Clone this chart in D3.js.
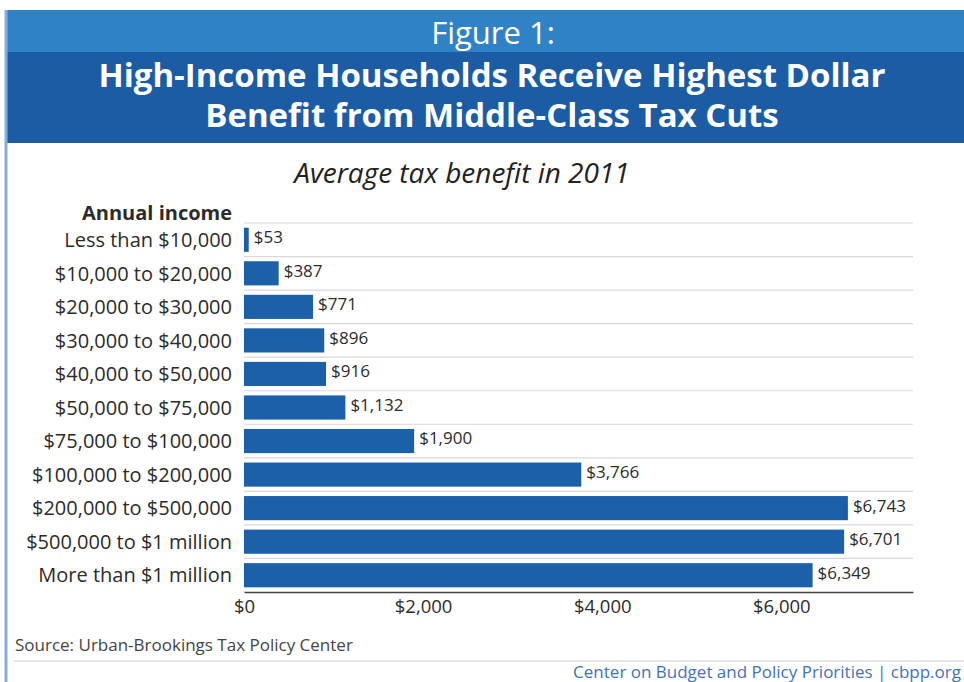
<!DOCTYPE html>
<html lang="en">
<head>
<meta charset="utf-8">
<title>Figure 1</title>
<script src="https://d3js.org/d3.v7.min.js"></script>
<style>
  body { margin: 0; background: #fff; }
  svg text { font-family: "Open Sans", sans-serif; }
  .rowlabel { fill: #2b2b2b; font-size: 20px; }
  .vlabel { fill: #2b2b2b; font-size: 17px; }
  .axis text { fill: #2b2b2b; font-size: 18.5px; font-family: "Open Sans", sans-serif; }
  .grid line { stroke: #d8d8d8; stroke-width: 1.2px; }
</style>
</head>
<body>
<svg id="chart" width="964" height="682"></svg>
<script>
// data
var incomes = ["Less than $10,000", "$10,000 to $20,000", "$20,000 to $30,000",
  "$30,000 to $40,000", "$40,000 to $50,000", "$50,000 to $75,000",
  "$75,000 to $100,000", "$100,000 to $200,000", "$200,000 to $500,000",
  "$500,000 to $1 million", "More than $1 million"];
var benefits = [53, 387, 771, 896, 916, 1132, 1900, 3766, 6743, 6701, 6349];
var ticks = [0, 2000, 4000, 6000];

var svg = d3.select("#chart");
var dollars = d3.format("$,");

// header bands
svg.append("rect").attr("x", 7).attr("y", 10).attr("width", 957).attr("height", 42).attr("fill", "#2f82c6");
svg.append("rect").attr("x", 7).attr("y", 52).attr("width", 957).attr("height", 91).attr("fill", "#1b5ca4");
svg.append("line").attr("x1", 6).attr("x2", 6).attr("y1", 10).attr("y2", 682)
    .attr("stroke", "#86b0dc").attr("stroke-width", 3);

svg.append("text").attr("x", 493).attr("y", 44).attr("text-anchor", "middle")
    .attr("fill", "#fff").style("font-size", "31px")
    .text("Figure 1:");
svg.append("text").attr("x", 492).attr("y", 87).attr("text-anchor", "middle")
    .attr("fill", "#fff").style("font-size", "33px").style("font-weight", "bold")
    .text("High-Income Households Receive Highest Dollar");
svg.append("text").attr("x", 492).attr("y", 127).attr("text-anchor", "middle")
    .attr("fill", "#fff").style("font-size", "33px").style("font-weight", "bold")
    .text("Benefit from Middle-Class Tax Cuts");

svg.append("text").attr("x", 462).attr("y", 183).attr("text-anchor", "middle")
    .attr("fill", "#222").style("font-size", "28px").style("font-style", "italic")
    .text("Average tax benefit in 2011");

// scales
var x = d3.scaleLinear().domain([0, 7470]).range([244, 913]);
var y = d3.scaleBand().domain(incomes).range([223, 592]).paddingInner(0.28).paddingOuter(0.14);

// row separators
svg.append("g").attr("class", "grid").selectAll("line")
  .data(incomes).join("line")
    .attr("x1", x(0)).attr("x2", x.range()[1])
    .attr("y1", function(d) { return y(d) - y.step() * 0.14; })
    .attr("y2", function(d) { return y(d) - y.step() * 0.14; });

svg.append("text").attr("x", 232).attr("y", 220).attr("text-anchor", "end")
    .attr("class", "rowlabel").style("font-weight", "bold").attr("fill", "#111")
    .text("Annual income");

svg.append("g").selectAll("text")
  .data(incomes).join("text")
    .attr("class", "rowlabel")
    .attr("x", 232)
    .attr("y", function(d) { return y(d) + y.bandwidth() / 2; })
    .attr("dy", "0.36em")
    .attr("text-anchor", "end")
    .text(function(d) { return d; });

svg.append("g").selectAll("rect")
  .data(benefits).join("rect")
    .attr("x", x(0))
    .attr("y", function(d, i) { return y(incomes[i]); })
    .attr("width", function(d) { return x(d) - x(0); })
    .attr("height", y.bandwidth())
    .attr("fill", "#1b60a8");

svg.append("g").selectAll("text")
  .data(benefits).join("text")
    .attr("class", "vlabel")
    .attr("x", function(d) { return x(d) + 5; })
    .attr("y", function(d, i) { return y(incomes[i]) + y.bandwidth() / 2; })
    .attr("dy", "0.2em")
    .text(function(d) { return dollars(d); });

var axis = svg.append("g").attr("class", "axis")
    .attr("transform", "translate(0,592)")
    .call(d3.axisBottom(x).tickValues(ticks).tickSize(0).tickPadding(8).tickFormat(dollars));
axis.select(".domain").attr("stroke", "#444").attr("stroke-width", 1.5);

// footer
svg.append("text").attr("x", 15).attr("y", 651)
    .attr("fill", "#444").style("font-size", "17px")
    .text("Source: Urban-Brookings Tax Policy Center");
svg.append("line").attr("x1", 14).attr("x2", 964).attr("y1", 661).attr("y2", 661)
    .attr("stroke", "#cfcfcf").attr("stroke-width", 1.2);
svg.append("text").attr("x", 961).attr("y", 678).attr("text-anchor", "end")
    .attr("fill", "#3f73b5").style("font-size", "17px")
    .text("Center on Budget and Policy Priorities | cbpp.org");
</script>
</body>
</html>
